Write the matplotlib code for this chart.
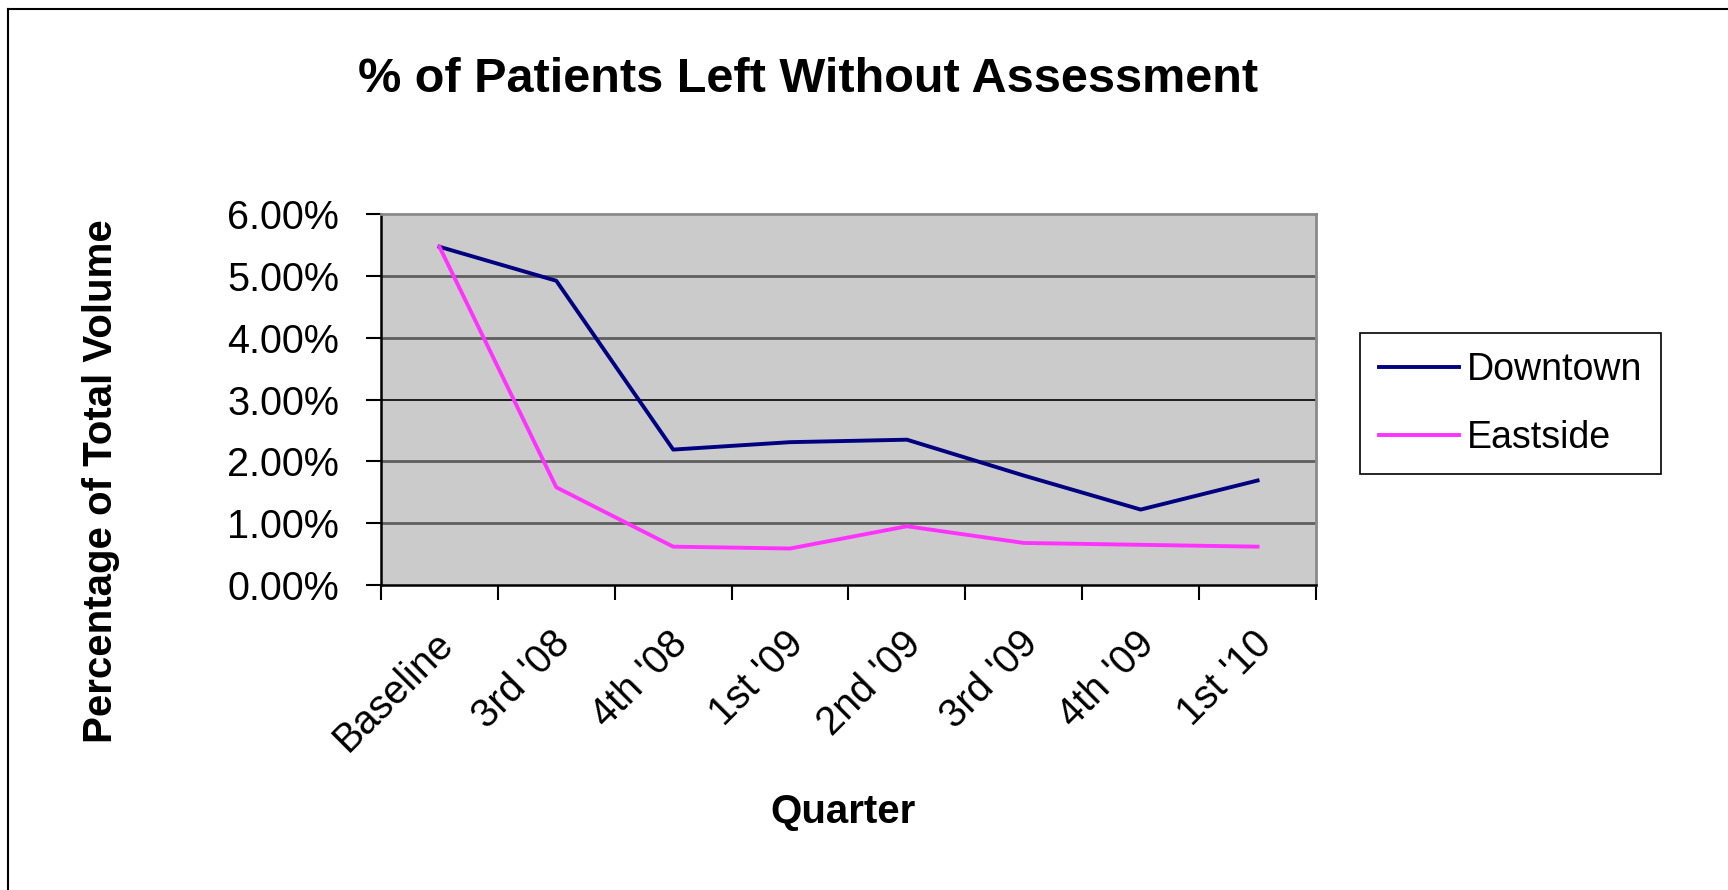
import numpy as np
import matplotlib.pyplot as plt
from matplotlib.lines import Line2D
from matplotlib.ticker import PercentFormatter, FixedLocator
from matplotlib.transforms import ScaledTranslation

plt.rcParams['font.family'] = ['Liberation Sans', 'DejaVu Sans']

# data (percent of total volume)
quarters = ["Baseline", "3rd '08", "4th '08", "1st '09", "2nd '09",
            "3rd '09", "4th '09", "1st '10"]
downtown = [5.47, 4.92, 2.19, 2.31, 2.35, 1.77, 1.22, 1.69]
eastside = [5.47, 1.58, 0.62, 0.59, 0.95, 0.68, 0.65, 0.62]
yticks = [0, 1, 2, 3, 4, 5, 6]

W, H = 1728, 890
fig = plt.figure(figsize=(W / 100, H / 100), dpi=100)
fig.patch.set_facecolor('white')

# plot area in pixel coords of the reference
left, right, top, bottom = 381, 1316, 214, 585
ax = fig.add_axes([left / W, 1 - bottom / H, (right - left) / W, (bottom - top) / H])
ax.set_facecolor('#cbcbcb')

x = np.arange(len(quarters))
ax.plot(x, downtown, color='#000080', lw=2.8, label='Downtown', zorder=3)
ax.plot(x, eastside, color='#ff33ff', lw=2.8, label='Eastside', zorder=3)

ax.set_xlim(-0.5, len(quarters) - 0.5)
ax.set_ylim(0, 6)

# gridlines, Excel-style (the 3% line renders black in the reference)
for v in yticks[1:-1]:
    if v == 3:
        ax.axhline(v, color='black', lw=1.2, zorder=1)
    else:
        ax.axhline(v, color='#5f5f5f', lw=2.0, zorder=1)

ax.yaxis.set_major_locator(FixedLocator(yticks))
ax.yaxis.set_major_formatter(PercentFormatter(xmax=100, decimals=2))
ax.tick_params(axis='y', direction='out', length=11, width=1.5, pad=19,
               labelsize=28.5, color='black')

# category boundaries get the tick marks, labels sit at category centres
ax.set_xticks(np.arange(-0.5, len(quarters)), minor=False)
ax.set_xticklabels([])
ax.set_xticks(x, minor=True)
ax.set_xticklabels(quarters, minor=True, rotation=45, ha='right',
                   va='center', rotation_mode='anchor', fontsize=28.5)
ax.tick_params(axis='x', which='major', direction='out', length=11, width=1.5,
               color='black')
ax.tick_params(axis='x', which='minor', length=0, pad=38)
for lab in ax.get_xticklabels(minor=True):
    lab.set_transform(lab.get_transform() + ScaledTranslation(0.08, 0, fig.dpi_scale_trans))

for side in ['left', 'bottom']:
    ax.spines[side].set_color('black')
    ax.spines[side].set_linewidth(1.8)
for side in ['top', 'right']:
    ax.spines[side].set_color('#8a8a8a')
    ax.spines[side].set_linewidth(2.0)

ax.set_ylabel('Percentage of Total Volume', fontsize=29, fontweight='bold')
ax.yaxis.set_label_coords(-0.279, 0.28)
ax.set_xlabel('Quarter', fontsize=29, fontweight='bold')
ax.xaxis.set_label_coords(0.494, -0.612)
ax.xaxis.label.set_va('center')

fig.text(808 / W, 1 - 79 / H, '% of Patients Left Without Assessment',
         fontsize=35, fontweight='bold', ha='center', va='center')

leg = ax.legend(loc='upper left', bbox_to_anchor=(1360 / W, 1 - 333 / H),
                bbox_transform=fig.transFigure, borderaxespad=0,
                fontsize=27, frameon=True, fancybox=False, framealpha=1,
                edgecolor='black', borderpad=0.5, handlelength=2.15,
                handletextpad=0.2, labelspacing=0.85)
leg.get_frame().set_linewidth(1.2)
for h in leg.get_lines():
    h.set_linewidth(2.8)

# the screenshot shows the chart border on the left and top only
fig.add_artist(Line2D([8 / W, 8 / W], [0, 1 - 9 / H], color='black', lw=1.5))
fig.add_artist(Line2D([8 / W, 1], [1 - 9 / H, 1 - 9 / H], color='black', lw=1.5))

fig.savefig('out.png', dpi=100)
